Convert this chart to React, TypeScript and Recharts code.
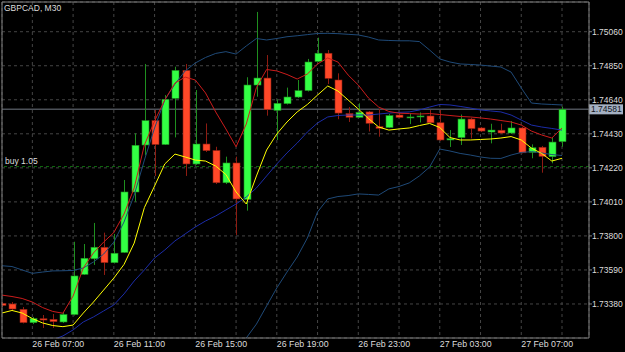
import React from 'react';
import {
  ComposedChart,
  Bar,
  Line,
  XAxis,
  YAxis,
  CartesianGrid,
  ReferenceLine,
  ReferenceArea,
} from 'recharts';

// ---------- data ----------
const chartTitle = 'GBPCAD, M30';
const orderLabel = 'buy 1.05';
const orderPrice = 1.74228;
const lastPrice = 1.74581;

const xTickIdx = [3, 7, 11, 15, 19, 23, 27, 31, 35, 39, 43, 47, 51, 55];
const xTickLabels = [
  '26 Feb 07:00', '', '26 Feb 11:00', '', '26 Feb 15:00', '', '26 Feb 19:00', '',
  '26 Feb 23:00', '', '27 Feb 03:00', '', '27 Feb 07:00', '',
];
const yTicks = [1.7338, 1.7359, 1.738, 1.7401, 1.7422, 1.7443, 1.7464, 1.7485, 1.7506];
const yDomain = [1.731701, 1.752433];
const xDomain = [0.02, 57.65];

const opens = [
  1.73384, 1.7338, 1.73347, 1.73265, 1.73289, 1.73285, 1.73269, 1.73315, 1.73563, 1.73659,
  1.7373, 1.73635, 1.73698, 1.74071, 1.74361, 1.74511, 1.74364, 1.74649, 1.74821, 1.74244,
  1.74367, 1.74327, 1.74128, 1.7425, 1.74026, 1.74731, 1.74774, 1.74575, 1.74616, 1.74657,
  1.74697, 1.74877, 1.74927, 1.74762, 1.74555, 1.74532, 1.74565, 1.74474, 1.74469, 1.74546,
  1.74531, 1.74535, 1.7454, 1.74498, 1.74392, 1.74407, 1.74521, 1.74466, 1.74441, 1.74452,
  1.74435, 1.74466, 1.74316, 1.74347, 1.74289, 1.74382,
];
const highs = [
  1.73392, 1.73392, 1.73361, 1.733, 1.73312, 1.73318, 1.7333, 1.73764, 1.7375, 1.7388,
  1.7382, 1.73812, 1.74145, 1.74433, 1.74861, 1.74577, 1.74669, 1.74844, 1.74861, 1.747,
  1.74494, 1.7435, 1.74289, 1.74289, 1.74779, 1.75182, 1.74916, 1.74643, 1.74715, 1.74762,
  1.74892, 1.75023, 1.74947, 1.74803, 1.74595, 1.74618, 1.74571, 1.74583, 1.74552, 1.74558,
  1.74557, 1.74562, 1.74577, 1.74577, 1.74453, 1.74549, 1.74528, 1.74472, 1.74492, 1.74492,
  1.74509, 1.74472, 1.74365, 1.74355, 1.74408, 1.74597,
];
const lows = [
  1.73361, 1.73337, 1.7326, 1.73256, 1.73232, 1.73232, 1.73263, 1.73309, 1.73559, 1.73621,
  1.73559, 1.7363, 1.73695, 1.74011, 1.74297, 1.7417, 1.74361, 1.74408, 1.7417, 1.74238,
  1.74318, 1.7412, 1.7412, 1.73806, 1.73956, 1.74659, 1.74542, 1.74392, 1.74611, 1.74651,
  1.74691, 1.74873, 1.74737, 1.7452, 1.74503, 1.74528, 1.74444, 1.74412, 1.74466, 1.74528,
  1.7449, 1.745, 1.74497, 1.74386, 1.74349, 1.74361, 1.74402, 1.74441, 1.74371, 1.74429,
  1.74429, 1.74309, 1.74279, 1.7419, 1.74248, 1.7435,
];
const closes = [
  1.73371, 1.73349, 1.73265, 1.7329, 1.73281, 1.73271, 1.73315, 1.73553, 1.73662, 1.7373,
  1.73635, 1.73693, 1.74071, 1.74359, 1.74511, 1.74364, 1.74643, 1.74821, 1.74244, 1.74367,
  1.74326, 1.74128, 1.7425, 1.74028, 1.74731, 1.74774, 1.74579, 1.74618, 1.74657, 1.74696,
  1.74873, 1.74927, 1.74772, 1.74558, 1.74532, 1.74562, 1.74495, 1.74464, 1.74542, 1.74531,
  1.74534, 1.7454, 1.74498, 1.74392, 1.744, 1.74521, 1.74462, 1.74447, 1.74453, 1.74435,
  1.74466, 1.74313, 1.74344, 1.74291, 1.74379, 1.74581,
];

const bbUpper = [
  1.73616, 1.73611, 1.7359, 1.73569, 1.73577, 1.73584, 1.73585, 1.73587, 1.73602, 1.73639,
  1.73688, 1.73762, 1.73886, 1.74052, 1.74268, 1.74466, 1.74639, 1.74737, 1.74818, 1.74867,
  1.74901, 1.74926, 1.74937, 1.74922, 1.74972, 1.75018, 1.75009, 1.75018, 1.75029, 1.75035,
  1.75042, 1.75049, 1.7505, 1.75048, 1.75044, 1.7504, 1.75027, 1.75009, 1.75006, 1.75004,
  1.75004, 1.74999, 1.74947, 1.74892, 1.74873, 1.74861, 1.74858, 1.74854, 1.74848, 1.74842,
  1.74811, 1.74713, 1.7462, 1.74614, 1.74611, 1.74608,
];
const bbMid = [
  1.73084, 1.73096, 1.73108, 1.73121, 1.73133, 1.73158, 1.73183, 1.7322, 1.73269, 1.733,
  1.73337, 1.73374, 1.73442, 1.73522, 1.7359, 1.73664, 1.73713, 1.73769, 1.73812, 1.73855,
  1.73892, 1.73923, 1.7396, 1.73997, 1.7404, 1.74096, 1.7417, 1.74244, 1.74312, 1.74373,
  1.74441, 1.74497, 1.74534, 1.74543, 1.74546, 1.74546, 1.74546, 1.74552, 1.74558, 1.74562,
  1.74565, 1.74577, 1.74595, 1.74611, 1.74608, 1.74599, 1.74589, 1.74577, 1.74571, 1.74565,
  1.74546, 1.74515, 1.74484, 1.74472, 1.74463, 1.74453,
];
const bbLower = [
  null, null, null, null, null, null, null, null, null, null,
  null, null, null, null, null, null, null, null, null, null,
  null, null, 1.72942, 1.73065, 1.7317, 1.73256, 1.73368, 1.73479, 1.73577, 1.7367,
  1.73787, 1.73948, 1.74028, 1.74043, 1.74049, 1.74059, 1.74056, 1.74052, 1.7409, 1.74105,
  1.74127, 1.7417, 1.74225, 1.74336, 1.74324, 1.74309, 1.74299, 1.74287, 1.74279, 1.74278,
  1.74299, 1.74315, 1.7432, 1.74312, 1.74302, 1.74296,
];
const maRed = [
  1.73435, 1.73426, 1.73414, 1.73392, 1.73358, 1.73334, 1.73323, 1.73429, 1.73602, 1.73695,
  1.73762, 1.73821, 1.73935, 1.74096, 1.74361, 1.74509, 1.74639, 1.74743, 1.7478, 1.74762,
  1.74682, 1.74565, 1.7446, 1.7435, 1.7449, 1.74716, 1.74827, 1.74818, 1.74796, 1.74768,
  1.74799, 1.74861, 1.74898, 1.74873, 1.74793, 1.74731, 1.74651, 1.74595, 1.74568, 1.74557,
  1.74555, 1.74552, 1.74555, 1.74549, 1.74543, 1.74537, 1.74534, 1.74528, 1.74521, 1.74512,
  1.74503, 1.74484, 1.74447, 1.74423, 1.74404, 1.74466,
];
const maYellow = [
  1.73324, 1.7334, 1.73324, 1.7329, 1.73263, 1.73247, 1.7324, 1.7325, 1.73324, 1.73392,
  1.73466, 1.7354, 1.73624, 1.73756, 1.73975, 1.74108, 1.74244, 1.74305, 1.74287, 1.74268,
  1.74262, 1.74231, 1.74179, 1.74071, 1.73997, 1.7417, 1.7433, 1.74429, 1.74503, 1.74565,
  1.74611, 1.74669, 1.74725, 1.74694, 1.74639, 1.74583, 1.74524, 1.74472, 1.74453, 1.7446,
  1.74466, 1.74481, 1.74494, 1.74469, 1.74407, 1.74392, 1.74392, 1.74395, 1.74398, 1.74404,
  1.74413, 1.74392, 1.74342, 1.74309, 1.74262, 1.74279,
];

const data = opens.map((o, i) => ({
  i,
  open: o,
  high: highs[i],
  low: lows[i],
  close: closes[i],
  range: [lows[i], highs[i]],
  upper: bbUpper[i],
  mid: bbMid[i],
  lower: bbLower[i],
  maRed: maRed[i],
  maYellow: maYellow[i],
}));

// ---------- styles ----------
const FONT = '"Liberation Sans", Arial, sans-serif';
const TEXT = '#dcdcdc';
const GRID = '#454545';
const FRAME = '#808080';
const UP_FILL = '#33ff44';
const UP_EDGE = '#1f8f1f';
const DN_FILL = '#ff4828';
const DN_EDGE = '#8e1c12';

const Candle = (props: any) => {
  const { x, y, width, height, payload } = props;
  if (x == null || y == null || !payload) return null;
  const top = Math.min(y, y + height);
  const h = Math.abs(height);
  const span = payload.high - payload.low;
  const k = span > 0 ? h / span : 0;
  const cx = Math.round(x + width / 2) + 0.5;
  const up = payload.close >= payload.open;
  const bTop = top + (payload.high - Math.max(payload.open, payload.close)) * k;
  const bBot = top + (payload.high - Math.min(payload.open, payload.close)) * k;
  const bh = Math.max(1, bBot - bTop);
  return (
    <g>
      <line x1={cx} x2={cx} y1={top} y2={top + h} stroke={up ? UP_EDGE : DN_EDGE} strokeWidth={1} />
      <rect
        x={cx - width / 2}
        y={bTop}
        width={width}
        height={bh}
        fill={up ? UP_FILL : DN_FILL}
        stroke={up ? UP_EDGE : DN_EDGE}
        strokeWidth={0.6}
      />
    </g>
  );
};

const XTick = (props: any) => {
  const { x, y, payload } = props;
  const idx = xTickIdx.indexOf(payload.value);
  const label = idx >= 0 ? xTickLabels[idx] : '';
  if (!label) return null;
  return (
    <text x={x} y={y} dy={7} textAnchor="start" fill={TEXT} fontSize={8.8} fontFamily={FONT}>
      {label}
    </text>
  );
};

const PriceTag = (props: any) => {
  const vb = props.viewBox;
  if (!vb) return null;
  const x = vb.x + vb.width;
  const y = vb.y;
  return (
    <g>
      <rect x={x} y={y - 5} width={34} height={10} fill="#a4b0c2" />
      <text x={x + 2} y={y} dy={3} fill="#10141a" fontSize={8.5} fontFamily={FONT}>
        {lastPrice.toFixed(5)}
      </text>
    </g>
  );
};

const OrderTag = (props: any) => {
  const vb = props.viewBox;
  if (!vb) return null;
  return (
    <text x={vb.x + 3} y={vb.y - 3} fill={TEXT} fontSize={8.5} fontFamily={FONT}>
      {orderLabel}
    </text>
  );
};

export default function App() {
  return (
    <div style={{ position: 'fixed', left: 0, top: 0, width: 625, height: 352, background: '#000' }}>
      <ComposedChart
        width={625}
        height={352}
        data={data}
        margin={{ top: 2, right: 0, bottom: 0, left: 2 }}
        style={{ background: '#000' }}
      >
        <CartesianGrid stroke={GRID} strokeDasharray="3 3" />
        <XAxis
          dataKey="i"
          type="number"
          domain={xDomain}
          allowDataOverflow
          ticks={xTickIdx}
          interval={0}
          height={14}
          tickLine={false}
          axisLine={false}
          tickSize={2}
          tickMargin={0}
          tick={<XTick />}
        />
        <YAxis
          type="number"
          orientation="right"
          domain={yDomain}
          allowDataOverflow
          ticks={yTicks}
          interval={0}
          width={36}
          axisLine={false}
          tickLine={{ stroke: FRAME }}
          tickSize={3}
          tickMargin={0}
          tick={{ fill: TEXT, fontSize: 8.5, fontFamily: FONT }}
          tickFormatter={(v: number) => v.toFixed(5)}
        />
        <ReferenceLine
          y={lastPrice}
          stroke="#4c5158"
          strokeWidth={1.5}
          zIndex={-40}
          label={<PriceTag />}
        />
        <ReferenceLine
          y={orderPrice}
          stroke="#0d6a0d"
          strokeDasharray="3 3"
          zIndex={-40}
          label={<OrderTag />}
        />
        <Bar dataKey="range" barSize={7} shape={<Candle />} isAnimationActive={false} />
        <Line type="linear" dataKey="upper" stroke="#1f4a78" strokeWidth={1} dot={false} activeDot={false} isAnimationActive={false} />
        <Line type="linear" dataKey="lower" stroke="#1f4a78" strokeWidth={1} dot={false} activeDot={false} isAnimationActive={false} />
        <Line type="linear" dataKey="mid" stroke="#1c2ca8" strokeWidth={1} dot={false} activeDot={false} isAnimationActive={false} />
        <Line type="linear" dataKey="maRed" stroke="#cc1c1c" strokeWidth={1} dot={false} activeDot={false} isAnimationActive={false} />
        <Line type="linear" dataKey="maYellow" stroke="#ffff00" strokeWidth={1} dot={false} activeDot={false} isAnimationActive={false} />
        <ReferenceArea
          x1={xDomain[0]}
          x2={xDomain[1]}
          y1={yDomain[0]}
          y2={yDomain[1]}
          fill="none"
          stroke={FRAME}
          strokeWidth={1}
          zIndex={900}
        />
      </ComposedChart>
      <div
        style={{
          position: 'absolute',
          left: 4,
          top: 3,
          color: TEXT,
          fontFamily: FONT,
          fontSize: 8.5,
          lineHeight: '10px',
          whiteSpace: 'nowrap',
        }}
      >
        {chartTitle}
      </div>
    </div>
  );
}
